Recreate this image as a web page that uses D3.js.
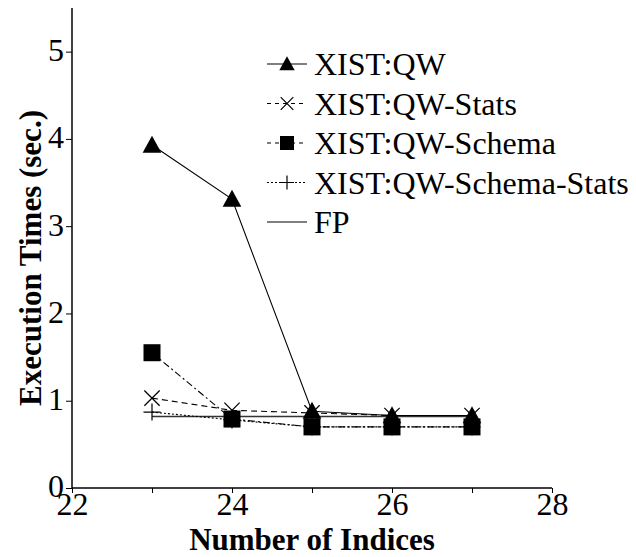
<!DOCTYPE html>
<html>
<head>
<meta charset="utf-8">
<script src="https://cdn.jsdelivr.net/npm/d3@7"></script>
<style>
  body { margin: 0; background: #fff; }
  text { font-family: "Liberation Serif", "DejaVu Serif", serif; fill: #000; }
</style>
</head>
<body>
<script>
// number of indices on the x axis
var indices = [23, 24, 25, 26, 27];

// execution times (sec.) per series
var qw = [3.93, 3.31, 0.88, 0.83, 0.83];
var qwStats = [1.03, 0.89, 0.86, 0.83, 0.83];
var qwSchema = [1.55, 0.79, 0.70, 0.70, 0.70];
var qwSchemaStats = [0.87, 0.78, 0.70, 0.70, 0.70];
var fp = [0.82, 0.82, 0.82, 0.82, 0.82];

var seriesNames = ["XIST:QW", "XIST:QW-Stats", "XIST:QW-Schema", "XIST:QW-Schema-Stats", "FP"];
var xTicks = [22, 24, 26, 28];
var yTicks = [0, 1, 2, 3, 4, 5];

var width = 636, height = 557;
var margin = {top: 8, right: 84, bottom: 69, left: 72};

var svg = d3.select("body").append("svg")
  .attr("width", width)
  .attr("height", height);

var x = d3.scaleLinear().domain([22, 28]).range([margin.left, width - margin.right]);
var y = d3.scaleLinear().domain([0, 5.5]).range([height - margin.bottom, margin.top]);

// style per series
var styles = [
  {dash: null, marker: "triangle"},
  {dash: "6,4", marker: "cross"},
  {dash: "7,3,2,3", marker: "square"},
  {dash: "2,2", marker: "plus"},
  {dash: null, marker: null}
];
var allValues = [qw, qwStats, qwSchema, qwSchemaStats, fp];

// axes
var yAxis = d3.axisLeft(y).tickValues(yTicks).tickSize(6).tickFormat(d3.format("d"));
var yMinor = d3.axisLeft(y).tickValues(d3.range(0, 55).map(d => d / 10)).tickSize(3).tickFormat("");
var xAxis = d3.axisBottom(x).tickValues(d3.range(22, 29)).tickSize(5)
  .tickFormat(d => xTicks.indexOf(d) >= 0 ? d : "");

var gy = svg.append("g").attr("transform", "translate(" + margin.left + ",0)");
gy.call(yMinor);
gy.call(yAxis);
svg.selectAll(".domain").attr("stroke", "#000").attr("stroke-width", 1.5);
gy.selectAll("path.domain").attr("d", "M0," + y(5.5) + "V" + y(0));

var gx = svg.append("g").attr("transform", "translate(0," + y(0) + ")").call(xAxis);
gx.select(".domain").attr("d", "M" + x(22) + ",0H" + x(28)).attr("stroke", "#000").attr("stroke-width", 1.5);

svg.selectAll("g").attr("font-family", null);
svg.selectAll(".tick line").attr("stroke", "#000");
gy.selectAll(".tick text").attr("font-size", 32).attr("x", -8).attr("dy", "0.28em");
gx.selectAll(".tick text").attr("font-size", 32).attr("y", 4).attr("dy", "0.72em");

// axis titles
svg.append("text")
  .attr("x", (x(22) + x(28)) / 2)
  .attr("y", 550)
  .attr("text-anchor", "middle")
  .attr("font-size", 31)
  .attr("font-weight", "bold")
  .text("Number of Indices");

svg.append("text")
  .attr("transform", "translate(41," + 258 + ") rotate(-90)")
  .attr("text-anchor", "middle")
  .attr("font-size", 31)
  .attr("font-weight", "bold")
  .text("Execution Times (sec.)");

// marker drawing
function drawMarker(g, type, cx, cy, s) {
  if (type === "triangle") {
    g.append("path")
      .attr("d", "M" + cx + "," + (cy - s * 0.55) + "L" + (cx + s * 0.55) + "," + (cy + s * 0.45) +
        "L" + (cx - s * 0.55) + "," + (cy + s * 0.45) + "Z")
      .attr("fill", "#000");
  } else if (type === "square") {
    g.append("rect")
      .attr("x", cx - s / 2).attr("y", cy - s / 2)
      .attr("width", s).attr("height", s)
      .attr("fill", "#000");
  } else if (type === "cross") {
    var h = s * 0.45;
    g.append("path")
      .attr("d", "M" + (cx - h) + "," + (cy - h) + "L" + (cx + h) + "," + (cy + h) +
        "M" + (cx - h) + "," + (cy + h) + "L" + (cx + h) + "," + (cy - h))
      .attr("stroke", "#000").attr("stroke-width", 1.2).attr("fill", "none");
  } else if (type === "plus") {
    var p = s * 0.5;
    g.append("path")
      .attr("d", "M" + (cx - p) + "," + cy + "L" + (cx + p) + "," + cy +
        "M" + cx + "," + (cy - p) + "L" + cx + "," + (cy + p))
      .attr("stroke", "#000").attr("stroke-width", 1.2).attr("fill", "none");
  }
}

var line = d3.line()
  .x((d, i) => x(indices[i]))
  .y(d => y(d));

// draw series, FP first
var order = [4, 3, 2, 1, 0];
order.forEach(function(k) {
  svg.append("path")
    .datum(allValues[k])
    .attr("fill", "none")
    .attr("stroke", k === 4 ? "#333" : "#000")
    .attr("stroke-width", k === 4 ? 1.6 : 1.1)
    .attr("stroke-dasharray", styles[k].dash)
    .attr("d", line);
});
order.forEach(function(k) {
  if (!styles[k].marker) return;
  var g = svg.append("g");
  allValues[k].forEach(function(v, i) {
    drawMarker(g, styles[k].marker, x(indices[i]), y(v), 17);
  });
});

// legend
var legend = svg.append("g");
seriesNames.forEach(function(name, k) {
  var ly = 64 + k * 39.5;
  legend.append("line")
    .attr("x1", 267).attr("x2", 307)
    .attr("y1", ly).attr("y2", ly)
    .attr("stroke", "#000")
    .attr("stroke-width", 1.1)
    .attr("stroke-dasharray", styles[k].dash ? (k === 3 ? "2,2" : "4,4") : null);
  if (styles[k].marker) drawMarker(legend, styles[k].marker, 287, ly, 14);
  legend.append("text")
    .attr("x", 314)
    .attr("y", ly)
    .attr("dy", "0.35em")
    .attr("font-size", 32)
    .text(name);
});
</script>
</body>
</html>
